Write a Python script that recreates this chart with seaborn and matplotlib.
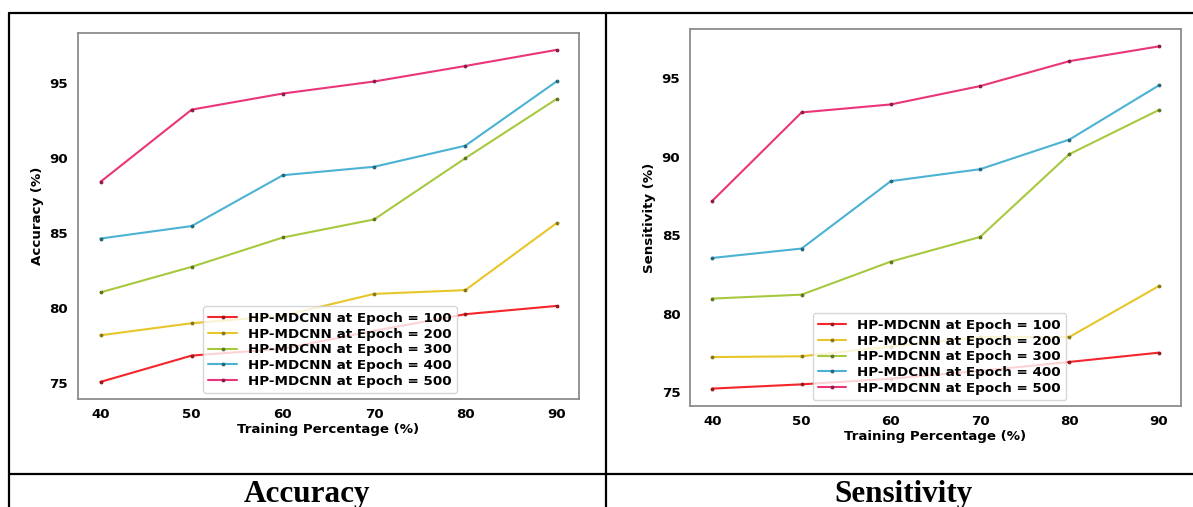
import pandas as pd
import seaborn as sns
import matplotlib.pyplot as plt
from matplotlib.lines import Line2D

TRAINING = [40, 50, 60, 70, 80, 90]
EPOCHS = ['100', '200', '300', '400', '500']

# Accuracy (%)
ACC_100 = [75.1, 76.85, 77.3, 78.5, 79.6, 80.15]
ACC_200 = [78.2, 79.0, 79.5, 80.95, 81.2, 85.65]
ACC_300 = [81.05, 82.75, 84.7, 85.9, 89.97, 93.9]
ACC_400 = [84.63, 85.46, 88.84, 89.4, 90.8, 95.07]
ACC_500 = [88.4, 93.2, 94.27, 95.07, 96.1, 97.17]

# Sensitivity (%)
SEN_100 = [75.22, 75.49, 75.85, 76.35, 76.92, 77.51]
SEN_200 = [77.23, 77.28, 77.9, 78.5, 78.51, 81.75]
SEN_300 = [80.96, 81.21, 83.32, 84.89, 90.17, 92.98]
SEN_400 = [83.55, 84.15, 88.45, 89.21, 91.1, 94.55]
SEN_500 = [87.19, 92.83, 93.34, 94.51, 96.1, 97.04]

COLORS = ['#f5262b', '#e8c62a', '#a6c93f', '#4bb2d3', '#ea3579']
MARKER_EDGE = ['#9a1418', '#8a7410', '#5e7420', '#23657a', '#8a1a45']

W, H = 1193, 507


def make_df(series):
    rows = []
    for epoch, values in zip(EPOCHS, series):
        for tp, v in zip(TRAINING, values):
            rows.append({'training': tp, 'value': v,
                         'label': 'HP-MDCNN at Epoch = ' + epoch})
    return pd.DataFrame(rows)


def draw_panel(ax, df, ylabel):
    labels = ['HP-MDCNN at Epoch = ' + e for e in EPOCHS]
    for lab, col, edge in zip(labels, COLORS, MARKER_EDGE):
        sub = df[df['label'] == lab]
        sns.lineplot(data=sub, x='training', y='value', ax=ax, color=col,
                     marker='.', markersize=4, markeredgecolor=edge,
                     markerfacecolor=edge, linewidth=1.5, label=lab)
    ax.set_xticks(TRAINING)
    ax.set_xlabel('Training Percentage (%)', fontsize=9.6, fontweight='bold', labelpad=1)
    ax.set_ylabel(ylabel, fontsize=9.6, fontweight='bold', labelpad=4)
    for t in ax.get_xticklabels() + ax.get_yticklabels():
        t.set_fontweight('bold')
        t.set_fontsize(9.6)
    for s in ax.spines.values():
        s.set_color('#8c8c8c')
        s.set_linewidth(1.3)
    ax.tick_params(colors='#222222', labelcolor='black', width=1, length=3.5)
    leg = ax.legend(loc='lower left', bbox_to_anchor=(0.25, 0.015), borderaxespad=0,
                    prop={'weight': 'bold', 'size': 9.7}, labelspacing=0.2,
                    handlelength=2.1, frameon=True)
    for t in leg.get_texts():
        t.set_color('black')


sns.set_style('white')
plt.rcParams['font.family'] = ['DejaVu Sans']
plt.rcParams['text.color'] = 'black'
plt.rcParams['axes.labelcolor'] = 'black'
plt.rcParams['xtick.color'] = 'black'
plt.rcParams['ytick.color'] = 'black'

fig = plt.figure(figsize=(W / 100, H / 100), dpi=100)

ax1 = fig.add_axes([77.7 / W, 1 - 398.5 / H, 501.6 / W, 365.2 / H])
ax2 = fig.add_axes([690 / W, 1 - 405.7 / H, 491 / W, 376.4 / H])

draw_panel(ax1, make_df([ACC_100, ACC_200, ACC_300, ACC_400, ACC_500]), 'Accuracy (%)')
draw_panel(ax2, make_df([SEN_100, SEN_200, SEN_300, SEN_400, SEN_500]), 'Sensitivity (%)')

# table-like border around the two panels
lw = 1.6
fig.add_artist(Line2D([8.5 / W, 1], [1 - 13 / H, 1 - 13 / H], color='black', lw=lw))
fig.add_artist(Line2D([8.5 / W, 8.5 / W], [0, 1 - 13 / H], color='black', lw=lw))
fig.add_artist(Line2D([605.7 / W, 605.7 / W], [0, 1 - 13 / H], color='black', lw=lw))
fig.add_artist(Line2D([8.5 / W, 1], [1 - 473.7 / H, 1 - 473.7 / H], color='black', lw=lw))

fig.text(307 / W, 1 - 502 / H, 'Accuracy', ha='center', va='baseline', color='black',
         fontsize=22.4, fontweight='bold', family=['Liberation Serif', 'DejaVu Serif'])
fig.text(903 / W, 1 - 502 / H, 'Sensitivity', ha='center', va='baseline', color='black',
         fontsize=22.4, fontweight='bold', family=['Liberation Serif', 'DejaVu Serif'])

fig.savefig('out.png', dpi=100)
